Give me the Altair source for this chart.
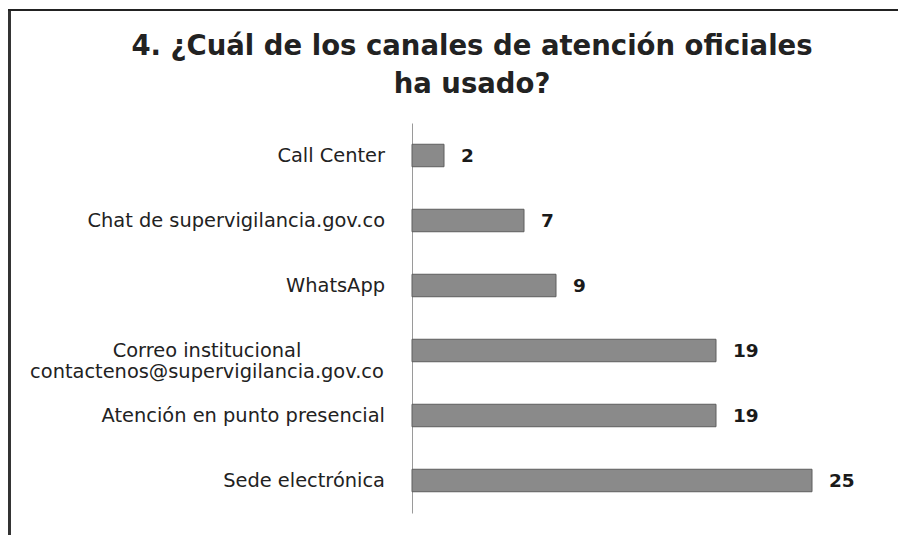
import altair as alt
import pandas as pd

categories = [
    "Call Center",
    "Chat de supervigilancia.gov.co",
    "WhatsApp",
    "Correo institucional\ncontactenos@supervigilancia.gov.co",
    "Atención en punto presencial",
    "Sede electrónica",
]
values = [2, 7, 9, 19, 19, 25]
multiline = [False, False, False, True, False, False]
title_text = "4. ¿Cuál de los canales de atención oficiales\nha usado?"

df = pd.DataFrame({"cat": categories, "val": values, "multi": multiline})
tdf = pd.DataFrame({"t": [title_text]})

FONT = "DejaVu Sans"
W, H = 460, 390

y_enc = alt.Y(
    "cat:N",
    sort=categories,
    scale=alt.Scale(paddingInner=0.654, paddingOuter=0.327),
    axis=alt.Axis(labels=False, ticks=False, title=None, domainColor="#9a9a9a", domainWidth=1),
)
x_enc = alt.X("val:Q", scale=alt.Scale(domain=[0, 28.75]), axis=None)

bars = alt.Chart(df).mark_bar(color="#8a8a8a", stroke="#5e5e5e", strokeWidth=1).encode(
    x=x_enc, y=y_enc
)

values_txt = alt.Chart(df).mark_text(
    align="left", baseline="middle", dx=17, font=FONT, fontSize=18.5, fontWeight="bold", color="#1a1a1a"
).encode(x=x_enc, y=y_enc, text="val:Q")

single_lbl = alt.Chart(df).transform_filter("!datum.multi").mark_text(
    align="right", baseline="middle", font=FONT, fontSize=19.4, color="#222222"
).encode(x=alt.value(-27), y=y_enc, text="cat:N")

multi_lbl = alt.Chart(df).transform_filter("datum.multi").mark_text(
    align="center", baseline="middle", font=FONT, fontSize=19.4, color="#222222",
    lineBreak="\n", lineHeight=21
).encode(x=alt.value(-205), y=y_enc, text="cat:N")

title = alt.Chart(tdf).mark_text(
    align="center", baseline="alphabetic", font=FONT, fontSize=27.5, fontWeight="bold",
    color="#222222", lineBreak="\n", lineHeight=38
).encode(x=alt.value(60), y=alt.value(-68), text="t:N")

left_border = alt.Chart(df).mark_rule(color="#333333", strokeWidth=3).encode(
    x=alt.value(-403), y=alt.value(-114), y2=alt.value(420)
)
top_border = alt.Chart(df).mark_rule(color="#222222", strokeWidth=2).encode(
    x=alt.value(-404.5), x2=alt.value(500), y=alt.value(-113)
)

chart = alt.layer(bars, values_txt, single_lbl, multi_lbl, title, left_border, top_border).properties(
    width=W,
    height=H,
    background="white",
    autosize=alt.AutoSizeParams(type="none"),
    padding={"left": 404, "top": 115, "right": 26, "bottom": 22},
).configure_view(stroke="transparent", strokeWidth=0)

chart.save("out.html", embed_options={"renderer": "svg", "actions": False})
